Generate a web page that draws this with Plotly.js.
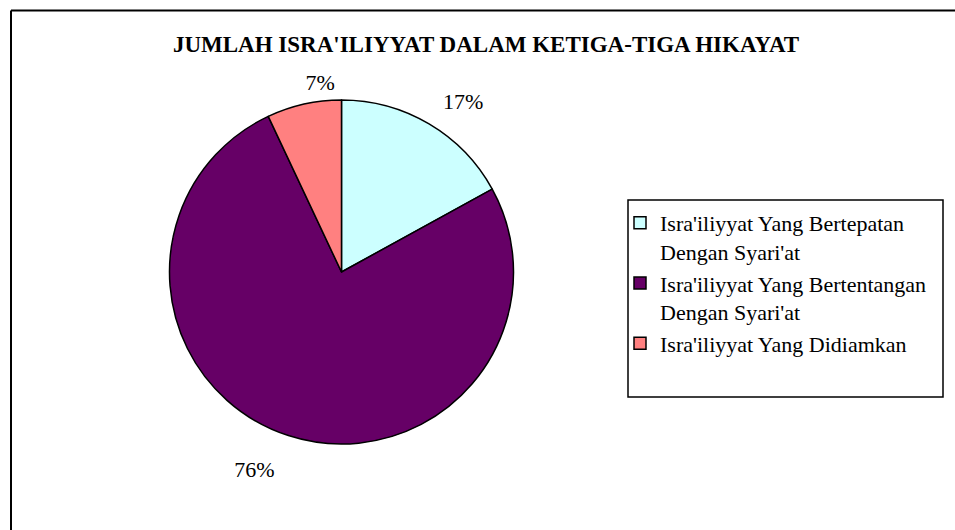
<!DOCTYPE html>
<html>
<head>
<meta charset="utf-8">
<script src="https://cdn.plot.ly/plotly-3.0.1.min.js"></script>
<style>html,body{margin:0;padding:0;background:#fff;overflow:hidden;}#chart{width:955px;height:530px;}</style>
</head>
<body>
<div id="chart"></div>
<script>
const categories = [
  "Isra'iliyyat Yang Bertepatan<br>Dengan Syari'at",
  "Isra'iliyyat Yang Bertentangan<br>Dengan Syari'at",
  "Isra'iliyyat Yang Didiamkan"
];
const values = [17, 76, 7];
const colors = ["#CCFFFF", "#660066", "#FF8080"];
const chartTitle = "JUMLAH ISRA'ILIYYAT DALAM KETIGA-TIGA HIKAYAT";

const W = 955, H = 530;
const px = v => v / W;
const py = v => 1 - v / H;
const CX = 341.5, CY = 272;
// square domain of half-size R (pixels) around the pie centre
const dom = R => ({x: [px(CX - R), px(CX + R)], y: [py(CY + R), py(CY - R)]});
const pct = '%{percent:.0%}';
const none = 'rgba(0,0,0,0)';
const labelFont = {family: 'Liberation Serif', size: 22, color: '#000'};

// the visible pie
const pie = {
  type: 'pie',
  labels: categories,
  values: values,
  sort: false,
  direction: 'clockwise',
  rotation: 0,
  marker: {colors: colors, line: {color: '#000', width: 1.5}},
  textinfo: 'none',
  domain: dom(172),
  hoverinfo: 'none'
};

// invisible copies of the pie, used only to place the percentage labels
const labelsA = {
  type: 'pie',
  labels: categories,
  values: values,
  sort: false,
  direction: 'clockwise',
  rotation: 0,
  pull: [0, 0.048, 0],
  marker: {colors: [none, none, none], line: {width: 0}},
  texttemplate: [pct, pct, ''],
  textposition: 'outside',
  outsidetextfont: labelFont,
  domain: dom(196),
  showlegend: false,
  hoverinfo: 'none'
};
const labelsB = {
  type: 'pie',
  labels: categories,
  values: values,
  sort: false,
  direction: 'clockwise',
  rotation: 12.5,
  marker: {colors: [none, none, none], line: {width: 0}},
  texttemplate: ['', '', pct],
  textposition: 'outside',
  outsidetextfont: labelFont,
  domain: dom(177),
  showlegend: false,
  hoverinfo: 'none'
};

const layout = {
  width: W, height: H,
  margin: {l: 0, r: 0, t: 0, b: 0},
  paper_bgcolor: '#fff',
  plot_bgcolor: '#fff',
  font: {family: 'Liberation Serif', color: '#000'},
  title: {
    text: '<b>' + chartTitle + '</b>',
    font: {family: 'Liberation Serif', size: 23, color: '#000'},
    x: 486 / W, xanchor: 'center',
    y: py(44), yanchor: 'middle',
    xref: 'paper', yref: 'container'
  },
  showlegend: true,
  legend: {
    x: px(620), xanchor: 'left',
    y: py(202), yanchor: 'top',
    font: {family: 'Liberation Serif', size: 22, color: '#000'},
    bgcolor: 'rgba(0,0,0,0)',
    borderwidth: 0,
    valign: 'top',
    traceorder: 'normal'
  },
  shapes: [
    {type: 'line', xref: 'paper', yref: 'paper',
     x0: px(11), x1: 1.05, y0: py(10.5), y1: py(10.5),
     line: {color: '#000', width: 2}},
    {type: 'line', xref: 'paper', yref: 'paper',
     x0: px(11), x1: px(11), y0: -0.05, y1: py(10.5),
     line: {color: '#000', width: 2}},
    {type: 'rect', xref: 'paper', yref: 'paper',
     x0: px(628), x1: px(943), y0: py(397), y1: py(200),
     line: {color: '#000', width: 1.5}, fillcolor: 'rgba(0,0,0,0)'}
  ]
};

Plotly.newPlot('chart', [pie, labelsA, labelsB], layout, {displayModeBar: false, staticPlot: true});
</script>
</body>
</html>
